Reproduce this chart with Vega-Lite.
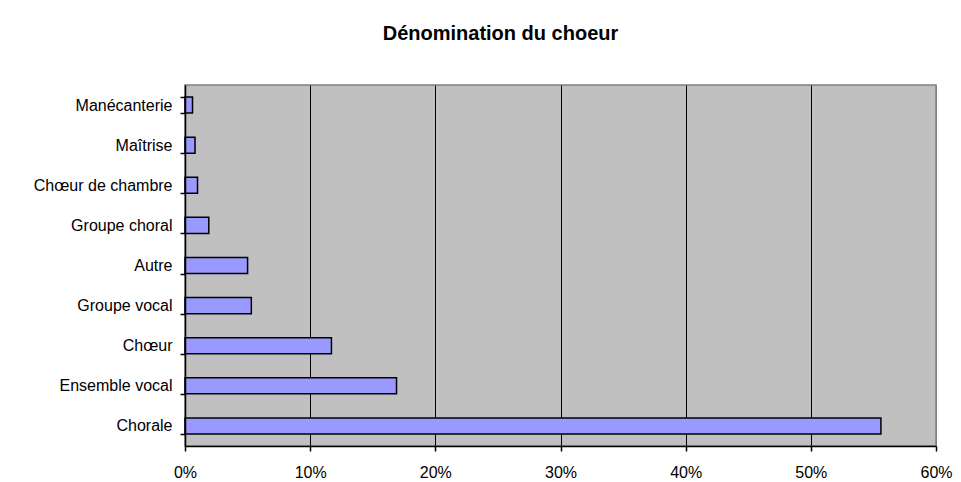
{
  "$schema": "https://vega.github.io/schema/vega-lite/v6.json",
  "autosize": "none",
  "width": 751,
  "height": 361,
  "padding": {"left": 185, "top": 85, "right": 25, "bottom": 36},
  "background": "white",
  "title": {
    "text": "Dénomination du choeur",
    "font": "Liberation Sans",
    "fontSize": 20,
    "fontWeight": "bold",
    "color": "black",
    "anchor": "middle",
    "dx": -60,
    "offset": 17,
    "baseline": "alphabetic"
  },
  "data": {
    "values": [
      {"denomination": "Manécanterie", "part": 0.006},
      {"denomination": "Maîtrise", "part": 0.008},
      {"denomination": "Chœur de chambre", "part": 0.010},
      {"denomination": "Groupe choral", "part": 0.019},
      {"denomination": "Autre", "part": 0.050},
      {"denomination": "Groupe vocal", "part": 0.053},
      {"denomination": "Chœur", "part": 0.117},
      {"denomination": "Ensemble vocal", "part": 0.169},
      {"denomination": "Chorale", "part": 0.556}
    ]
  },
  "mark": {"type": "bar", "fill": "#9999FF", "stroke": "black", "strokeWidth": 1.5},
  "encoding": {
    "y": {
      "field": "denomination",
      "type": "nominal",
      "sort": ["Manécanterie", "Maîtrise", "Chœur de chambre", "Groupe choral", "Autre", "Groupe vocal", "Chœur", "Ensemble vocal", "Chorale"],
      "scale": {"paddingInner": 0.6, "paddingOuter": 0.3},
      "axis": {
        "title": null,
        "tickBand": "extent",
        "grid": false,
        "domainColor": "black",
        "domainWidth": 1.5,
        "tickColor": "black",
        "tickWidth": 1.5,
        "tickSize": 5,
        "labelPadding": 8,
        "labelFont": "Liberation Sans",
        "labelFontSize": 16,
        "labelColor": "black",
        "zindex": 1
      }
    },
    "x": {
      "field": "part",
      "type": "quantitative",
      "scale": {"domain": [0, 0.6], "nice": false},
      "axis": {
        "title": null,
        "format": ".0%",
        "values": [0, 0.1, 0.2, 0.3, 0.4, 0.5, 0.6],
        "grid": true,
        "gridColor": {"condition": {"test": "datum.value >= 0.6", "value": "#808080"}, "value": "black"},
        "gridWidth": 1,
        "gridOpacity": 1,
        "domainColor": "black",
        "domainWidth": 1.5,
        "tickColor": "black",
        "tickWidth": 1.5,
        "tickSize": 5,
        "labelPadding": 13,
        "labelFont": "Liberation Sans",
        "labelFontSize": 16,
        "labelColor": "black",
        "labelFlush": false,
        "zindex": 0
      }
    }
  },
  "config": {
    "view": {"fill": "#C0C0C0", "stroke": "#808080", "strokeWidth": 1.5}
  }
}
